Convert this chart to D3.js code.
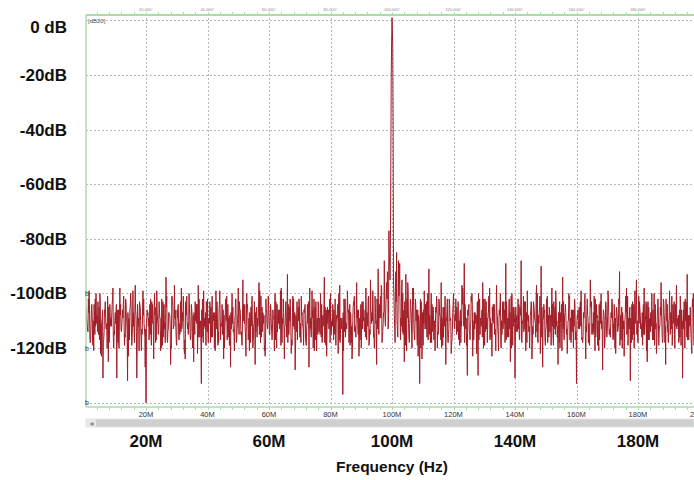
<!DOCTYPE html>
<html>
<head>
<meta charset="utf-8">
<script src="https://cdn.jsdelivr.net/npm/d3@7"></script>
<style>
  body { margin: 0; background: #fff; }
  svg { display: block; font-family: "Liberation Sans", Arial, sans-serif; }
</style>
</head>
<body>
<div id="chart"></div>
<script>
// spectrum samples (dB), four interleaved sets:
// levels at 0.5, 1.0 ... MHz, fineA at +0.125, mids at +0.25, fineB at +0.375
var freqStart = 0.5;
var freqStep = 0.5;
var levels0 = [-105,-113,-99,-117,-108,-121,-102,-111,-115,-100,-123,-131,-106,-113,-101,-118,-109,-104,-120,-107,
               -131,-106,-98,-114,-109,-119,-103,-132,-110,-100,-116,-107,-97,-131,-112,-104,-121,-99,-113,-140];
var levels1 = [-108,-117,-102,-111,-124,-105,-99,-115,-109,-120,-103,-113,-94,-118,-107,-126,-101,-112,-106,-119,
               -104,-115,-98,-110,-122,-106,-113,-100,-117,-108,-125,-103,-111,-97,-116,-133,-105,-112,-119,-102];
var levels2 = [-110,-118,-101,-107,-121,-104,-114,-99,-112,-106,-120,-103,-115,-109,-127,-100,-113,-108,-117,-98,
               -106,-114,-95,-111,-123,-104,-109,-118,-101,-112,-126,-105,-110,-99,-116,-107,-121,-102,-113,-108];
var levels3 = [-104,-117,-109,-100,-120,-106,-113,-98,-111,-124,-103,-93,-115,-108,-119,-102,-128,-110,-105,-116,
               -101,-112,-107,-118,-104,-127,-109,-99,-114,-106,-121,-103,-111,-116,-108,-94,-119,-105,-113,-100];
var levels4 = [-110,-117,-102,-108,-122,-97,-113,-137,-105,-111,-99,-118,-107,-124,-103,-112,-96,-115,-109,-120,
               -104,-113,-98,-110,-119,-95,-107,-116,-101,-126,-91,-108,-97,-114,-88,-105,-92,-77,-80,1];
var levels5 = [-97,-118,-85,-104,-89,-112,-100,-125,-93,-109,-116,-102,-120,-98,-111,-106,-123,-133,-103,-114,
               -99,-112,-107,-91,-118,-104,-110,-121,-101,-115,-108,-96,-119,-105,-126,-102,-113,-109,-117,-100];
var levels6 = [-108,-115,-103,-119,-110,-98,-89,-113,-130,-104,-111,-100,-117,-107,-122,-130,-102,-112,-96,-114,
               -106,-118,-101,-109,-123,-104,-113,-97,-115,-108,-120,-103,-111,-89,-116,-105,-125,-100,-112,-131];
var levels7 = [-109,-102,-117,-88,-111,-106,-121,-99,-114,-108,-124,-103,-110,-97,-118,-105,-90,-127,-107,-113,
               -101,-116,-108,-98,-119,-105,-112,-126,-103,-110,-94,-117,-107,-122,-100,-114,-109,-120,-104,-133];
var levels8 = [-106,-113,-99,-118,-108,-124,-102,-111,-95,-115,-107,-121,-104,-110,-117,-100,-128,-109,-103,-114,
               -108,-116,-102,-111,-120,-105,-113,-92,-117,-107,-123,-101,-112,-109,-132,-104,-115,-99,-95,-118];
var levels9 = [-103,-111,-119,-98,-108,-125,-105,-114,-100,-117,-109,-122,-102,-112,-96,-118,-107,-126,-104,-110,
               -115,-101,-108,-120,-97,-112,-106,-119,-131,-103,-110,-93,-117,-105,-122,-100,-113,-94,-109,-104];

var mids0 = [-110,-102,-116,-106,-119,-108,-100,-114,-105,-122,-109,-117,-103,-111,-125,-104,-112,-98,-115,-107,
             -113,-120,-104,-109,-101,-116,-110,-123,-106,-113,-99,-118,-108,-104,-121,-110,-115,-102,-127,-109];
var mids1 = [-112,-104,-119,-107,-100,-116,-110,-103,-121,-111,-106,-118,-101,-113,-108,-120,-105,-97,-114,-109,
             -117,-103,-112,-106,-124,-101,-115,-109,-104,-119,-112,-107,-122,-102,-110,-116,-99,-113,-106,-118];
var mids2 = [-103,-113,-108,-120,-99,-112,-106,-117,-104,-124,-110,-101,-116,-108,-113,-105,-121,-102,-111,-115,
             -109,-119,-104,-113,-100,-117,-107,-112,-120,-103,-114,-109,-96,-118,-105,-111,-123,-107,-101,-115];
var mids3 = [-111,-106,-121,-103,-114,-109,-99,-118,-107,-112,-116,-104,-110,-122,-101,-113,-108,-117,-102,-111,
             -107,-119,-104,-113,-110,-98,-116,-106,-121,-103,-109,-114,-100,-118,-111,-105,-123,-108,-102,-115];
var mids4 = [-104,-111,-119,-106,-100,-115,-109,-121,-102,-113,-107,-104,-118,-110,-101,-116,-106,-123,-112,-103,
             -110,-106,-117,-102,-113,-108,-99,-120,-111,-104,-115,-101,-118,-107,-110,-96,-113,-90,-21,-10];
var mids5 = [-108,-92,-113,-101,-117,-95,-110,-104,-121,-99,-112,-107,-98,-115,-105,-119,-109,-102,-124,-106,
             -113,-103,-117,-108,-100,-114,-111,-105,-120,-102,-112,-109,-116,-101,-110,-118,-104,-122,-107,-111];
var mids6 = [-102,-113,-117,-106,-97,-111,-104,-119,-108,-114,-101,-123,-107,-111,-103,-117,-109,-106,-120,-102,
             -113,-107,-98,-116,-110,-104,-121,-108,-112,-100,-115,-106,-118,-103,-109,-113,-101,-119,-107,-105];
var mids7 = [-114,-104,-108,-118,-101,-113,-107,-110,-120,-103,-112,-106,-116,-100,-111,-122,-105,-109,-117,-102,
             -110,-106,-119,-104,-113,-99,-116,-108,-111,-121,-103,-107,-115,-110,-101,-118,-106,-112,-114,-108];
var mids8 = [-111,-103,-117,-107,-100,-114,-109,-119,-104,-112,-101,-116,-108,-121,-103,-110,-106,-118,-113,-99,
             -115,-107,-111,-104,-122,-109,-102,-116,-105,-113,-110,-98,-119,-106,-112,-103,-120,-108,-110,-101];
var mids9 = [-108,-116,-104,-112,-121,-103,-110,-107,-117,-100,-113,-109,-119,-105,-111,-102,-118,-108,-114,-99,
             -107,-115,-103,-112,-109,-118,-101,-113,-106,-120,-104,-111,-108,-116,-102,-119,-107,-112,-104,-110];

var fineA0 = [-109,-114,-106,-111,-117,-104,-112,-108,-115,-103,-110,-118,-107,-113,-105,-116,-109,-102,-114,-111,
              -106,-119,-108,-112,-104,-115,-110,-107,-117,-103,-111,-114,-106,-120,-109,-105,-113,-108,-116,-111];
var fineA1 = [-107,-112,-115,-104,-110,-118,-106,-113,-109,-102,-116,-111,-105,-114,-108,-119,-103,-112,-110,-106,
              -115,-109,-113,-101,-117,-108,-111,-105,-114,-120,-107,-110,-104,-116,-112,-106,-118,-109,-103,-113];
var fineA2 = [-111,-105,-116,-109,-113,-103,-118,-108,-112,-106,-114,-110,-104,-119,-107,-111,-115,-102,-113,-109,
              -106,-117,-110,-104,-112,-108,-121,-105,-114,-111,-107,-116,-103,-110,-113,-108,-119,-106,-111,-115];
var fineA3 = [-106,-113,-110,-117,-104,-111,-108,-115,-102,-112,-109,-118,-105,-114,-107,-111,-120,-103,-110,-116,
              -108,-113,-105,-119,-111,-106,-114,-109,-102,-117,-110,-107,-115,-104,-112,-118,-106,-111,-109,-113];
var fineA4 = [-112,-106,-115,-109,-103,-118,-110,-107,-114,-111,-105,-116,-108,-120,-104,-113,-109,-106,-117,-111,
              -103,-114,-108,-112,-118,-105,-110,-115,-107,-102,-113,-109,-98,-111,-104,-100,-93,-86,-50,-3];
var fineA5 = [-101,-94,-110,-88,-106,-99,-115,-103,-111,-96,-118,-105,-109,-113,-102,-116,-108,-111,-104,-119,
              -107,-113,-100,-115,-109,-106,-117,-111,-103,-114,-108,-120,-105,-112,-109,-116,-102,-110,-114,-107];
var fineA6 = [-110,-105,-116,-108,-112,-102,-118,-109,-106,-114,-111,-104,-117,-108,-113,-100,-115,-110,-107,-119,
              -103,-112,-109,-116,-105,-111,-114,-107,-121,-104,-110,-113,-106,-117,-109,-102,-114,-111,-105,-118];
var fineA7 = [-108,-113,-105,-117,-110,-103,-115,-109,-112,-106,-119,-104,-111,-114,-108,-101,-116,-110,-106,-113,
              -118,-105,-109,-112,-103,-115,-110,-107,-120,-104,-113,-108,-111,-116,-102,-109,-114,-106,-117,-110];
var fineA8 = [-113,-107,-110,-116,-104,-112,-108,-118,-105,-111,-114,-102,-109,-117,-106,-113,-110,-120,-104,-108,
              -115,-111,-103,-116,-109,-106,-112,-119,-105,-110,-114,-107,-101,-113,-109,-117,-104,-111,-115,-108];
var fineA9 = [-106,-112,-109,-115,-103,-111,-117,-107,-113,-110,-104,-118,-108,-112,-105,-116,-110,-102,-114,-109,
              -107,-119,-111,-104,-113,-108,-116,-106,-110,-114,-103,-117,-109,-112,-105,-115,-108,-111,-106,-113];

var fineB0 = [-112,-107,-118,-104,-110,-115,-108,-103,-117,-111,-106,-114,-109,-120,-105,-112,-107,-116,-110,-104,
              -118,-108,-113,-106,-111,-102,-115,-109,-105,-119,-112,-107,-114,-110,-103,-116,-108,-111,-113,-106];
var fineB1 = [-109,-115,-103,-112,-108,-117,-111,-106,-114,-119,-104,-110,-116,-107,-112,-101,-113,-109,-118,-105,
              -111,-114,-107,-120,-103,-110,-112,-116,-106,-108,-115,-104,-113,-110,-119,-102,-111,-107,-114,-109];
var fineB2 = [-105,-116,-110,-107,-113,-119,-104,-111,-115,-108,-102,-117,-109,-112,-106,-114,-110,-118,-107,-103,
              -115,-111,-108,-116,-105,-113,-109,-104,-118,-110,-106,-112,-115,-101,-114,-108,-117,-111,-105,-110];
var fineB3 = [-114,-108,-103,-116,-111,-106,-119,-109,-113,-105,-110,-115,-102,-117,-112,-107,-114,-109,-104,-118,
              -111,-106,-116,-110,-103,-113,-108,-120,-105,-112,-115,-109,-107,-117,-104,-111,-113,-106,-118,-110];
var fineB4 = [-108,-115,-111,-104,-117,-109,-113,-102,-116,-110,-106,-119,-112,-105,-114,-108,-111,-118,-104,-113,
              -109,-116,-107,-101,-115,-111,-106,-118,-110,-113,-104,-109,-116,-107,-112,-102,-108,-95,-8,-40];
var fineB5 = [-112,-103,-116,-97,-109,-114,-106,-119,-102,-111,-108,-115,-104,-117,-110,-106,-113,-120,-107,-111,
              -104,-116,-109,-113,-118,-105,-110,-107,-114,-103,-117,-111,-108,-112,-106,-115,-110,-119,-104,-113];
var fineB6 = [-107,-114,-110,-118,-104,-112,-108,-115,-106,-117,-103,-110,-113,-108,-119,-105,-111,-116,-102,-114,
              -109,-107,-117,-111,-104,-115,-108,-112,-106,-118,-110,-103,-113,-109,-116,-107,-120,-105,-111,-114];
var fineB7 = [-111,-116,-106,-110,-114,-103,-118,-108,-112,-105,-115,-109,-101,-117,-107,-113,-110,-104,-119,-111,
              -108,-114,-106,-116,-110,-103,-112,-118,-107,-109,-115,-104,-113,-110,-117,-106,-111,-102,-114,-109];
var fineB8 = [-105,-112,-116,-109,-113,-106,-118,-110,-103,-115,-108,-112,-119,-104,-111,-114,-107,-110,-116,-102,
              -113,-109,-117,-106,-111,-114,-104,-108,-120,-110,-107,-115,-112,-105,-118,-109,-113,-103,-116,-111];
var fineB9 = [-113,-107,-115,-110,-104,-117,-109,-112,-106,-119,-111,-105,-114,-108,-116,-103,-112,-110,-118,-107,
              -113,-104,-115,-109,-111,-117,-106,-110,-113,-102,-116,-108,-112,-119,-105,-110,-114,-107,-111,-109];

var yTicks = [0, -20, -40, -60, -80, -100, -120, -140];
var yLabels = ["0 dB", "-20dB", "-40dB", "-60dB", "-80dB", "-100dB", "-120dB"];
var xGrid = [20, 40, 60, 80, 100, 120, 140, 160, 180, 200];
var xSmallLabels = ["20M", "40M", "60M", "80M", "100M", "120M", "140M", "160M", "180M", "200M"];
var xBigTicks = [20, 60, 100, 140, 180];
var xBigLabels = ["20M", "60M", "100M", "140M", "180M"];

var levels = [].concat(levels0, levels1, levels2, levels3, levels4, levels5, levels6, levels7, levels8, levels9);
var mids = [].concat(mids0, mids1, mids2, mids3, mids4, mids5, mids6, mids7, mids8, mids9);
var fineA = [].concat(fineA0, fineA1, fineA2, fineA3, fineA4, fineA5, fineA6, fineA7, fineA8, fineA9);
var fineB = [].concat(fineB0, fineB1, fineB2, fineB3, fineB4, fineB5, fineB6, fineB7, fineB8, fineB9);
var data = [];
levels.forEach(function(v, i) {
    var f = freqStart + i * freqStep;
    data.push({ f: f, db: v });
    data.push({ f: f + freqStep / 4, db: fineA[i] });
    data.push({ f: f + freqStep / 2, db: mids[i] });
    data.push({ f: f + freqStep * 3 / 4, db: fineB[i] });
});

var width = 694, height = 480;
var plotLeft = 86, plotRight = 694, plotTop = 15, plotBottom = 407;

var svg = d3.select("#chart").append("svg")
    .attr("width", width)
    .attr("height", height);

var x = d3.scaleLinear().domain([0, 200]).range([84.5, 699.5]);
var y = d3.scaleLinear().domain([-140, 0]).range([402.7, 20.4]);

// dotted grid
svg.append("g").selectAll("line")
    .data(yTicks)
    .enter().append("line")
    .attr("x1", plotLeft).attr("x2", plotRight)
    .attr("y1", function(d) { return Math.round(y(d)) + 0.5; })
    .attr("y2", function(d) { return Math.round(y(d)) + 0.5; })
    .attr("stroke", "#b8b8b8")
    .attr("stroke-dasharray", "2,2");

svg.append("g").selectAll("line")
    .data(xGrid)
    .enter().append("line")
    .attr("x1", function(d) { return Math.round(x(d)) + 0.5; })
    .attr("x2", function(d) { return Math.round(x(d)) + 0.5; })
    .attr("y1", plotTop + 3).attr("y2", plotBottom - 2)
    .attr("stroke", "#b8b8b8")
    .attr("stroke-dasharray", "2,2");

// trace
svg.append("clipPath").attr("id", "clip")
  .append("rect").attr("x", plotLeft).attr("y", plotTop)
  .attr("width", plotRight - plotLeft).attr("height", plotBottom - plotTop);

var line = d3.line()
    .x(function(d) { return x(d.f); })
    .y(function(d) { return y(d.db); });

svg.append("path")
    .datum(data)
    .attr("clip-path", "url(#clip)")
    .attr("d", line)
    .attr("fill", "none")
    .attr("stroke", "#a31d27")
    .attr("stroke-linejoin", "bevel")
    .attr("stroke-width", 1);

// green frame
var green = "#a9dca9";
svg.append("line").attr("x1", plotLeft).attr("x2", plotRight).attr("y1", plotTop).attr("y2", plotTop)
    .attr("stroke", green).attr("stroke-width", 2);
svg.append("line").attr("x1", plotLeft).attr("x2", plotRight).attr("y1", plotBottom).attr("y2", plotBottom)
    .attr("stroke", green).attr("stroke-width", 1.5);
svg.append("line").attr("x1", plotLeft).attr("x2", plotLeft).attr("y1", plotTop).attr("y2", plotBottom)
    .attr("stroke", green).attr("stroke-width", 1.5);

// minor ticks top and bottom
var minor = d3.range(4, 200, 4);
svg.append("g").selectAll("line")
    .data(minor)
    .enter().append("line")
    .attr("x1", function(d) { return Math.round(x(d)) + 0.5; })
    .attr("x2", function(d) { return Math.round(x(d)) + 0.5; })
    .attr("y1", plotTop - 3).attr("y2", plotTop)
    .attr("stroke", green);
svg.append("g").selectAll("line")
    .data(minor)
    .enter().append("line")
    .attr("x1", function(d) { return Math.round(x(d)) + 0.5; })
    .attr("x2", function(d) { return Math.round(x(d)) + 0.5; })
    .attr("y1", plotBottom).attr("y2", plotBottom + 3)
    .attr("stroke", green);

// tiny labels above top axis
svg.append("g").selectAll("text")
    .data(xGrid.slice(0, 9))
    .enter().append("text")
    .attr("x", function(d) { return x(d); })
    .attr("y", 11)
    .attr("text-anchor", "middle")
    .attr("font-size", 4)
    .attr("fill", "#888")
    .text(function(d) { return d + ".000°"; });

svg.append("text").attr("x", 88).attr("y", 23)
    .attr("font-size", 6).attr("fill", "#555").text("[dB20]");

// small "b" marks on left axis
svg.append("g").selectAll("text")
    .data([-100, -120, -140])
    .enter().append("text")
    .attr("x", 85).attr("y", function(d) { return y(d) + 2.5; })
    .attr("font-size", 7).attr("fill", "#444")
    .text("b");

// small frequency labels (the last one is cut by the window edge, as in the original)
svg.append("g").selectAll("text")
    .data(xGrid)
    .enter().append("text")
    .attr("x", function(d) { return x(d); })
    .attr("y", 417)
    .attr("text-anchor", "middle")
    .attr("font-size", 7.5)
    .attr("fill", "#333")
    .text(function(d, i) { return xSmallLabels[i]; });

// scrollbar
svg.append("rect").attr("x", 86).attr("y", 419).attr("width", 608).attr("height", 8)
    .attr("fill", "#cfcfcf").attr("stroke", "#e4e4e4");
svg.append("rect").attr("x", 86).attr("y", 419).attr("width", 10).attr("height", 8)
    .attr("fill", "#e8e8e8");
svg.append("text").attr("x", 88).attr("y", 426).attr("font-size", 7).attr("fill", "#888").text("◄");

// big y labels
svg.append("g").selectAll("text")
    .data(yLabels)
    .enter().append("text")
    .attr("x", 67)
    .attr("y", function(d, i) { return i === 0 ? 33 : y(yTicks[i]) + 6; })
    .attr("text-anchor", "end")
    .attr("font-size", 17)
    .attr("font-weight", "bold")
    .attr("fill", "#111")
    .text(function(d) { return d; });

// big x labels
svg.append("g").selectAll("text")
    .data(xBigTicks)
    .enter().append("text")
    .attr("x", function(d) { return x(d); })
    .attr("y", 447)
    .attr("text-anchor", "middle")
    .attr("font-size", 17)
    .attr("font-weight", "bold")
    .attr("fill", "#111")
    .text(function(d, i) { return xBigLabels[i]; });

svg.append("text")
    .attr("x", 392).attr("y", 472)
    .attr("text-anchor", "middle")
    .attr("font-size", 15.5)
    .attr("font-weight", "bold")
    .attr("fill", "#111")
    .text("Frequency (Hz)");
</script>
</body>
</html>
